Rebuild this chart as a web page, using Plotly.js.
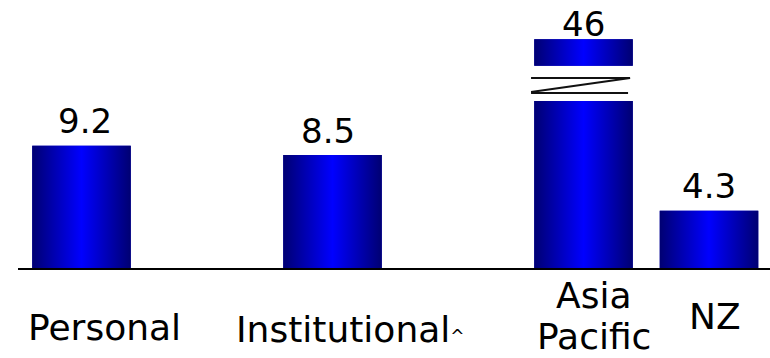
<!DOCTYPE html>
<html>
<head>
<meta charset="utf-8">
<script src="https://cdn.plot.ly/plotly-3.0.1.min.js"></script>
<style>
  html, body { margin: 0; padding: 0; background: #ffffff; }
  #chart { width: 770px; height: 358px; }
</style>
</head>
<body>
<div id="chart"></div>
<script>
// ---- data ----
const categories = ["Personal", "Institutional", "Asia Pacific", "NZ"];
const values = [9.2, 8.5, 46, 4.3];
const tickLabels = ["Personal", "Institutional^", "Asia<br>Pacific", "NZ"];

// ---- layout constants (positions / styles) ----
const xPos = [0, 2, 4, 5];
const BAR_W = 0.785;
const Y_MAX = 20.15;
const BREAK_FROM = 12.55;   // lower piece of broken bar ends here
const BREAK_TO = 44.0;      // upper piece resumes here
const BREAK_GAP = 2.65;     // visual gap (axis units)
const Y2_OFFSET = BREAK_TO - BREAK_FROM - BREAK_GAP;
const FONT = "DejaVu Sans, Verdana, sans-serif";
const GRAD = [[0, "#000072"], [0.5, "#0000ff"], [1, "#000072"]];

const valueShift = [3, 2, -7, 3];
const valueDx = [3, -5, 0, 0];
const labelDx = [23, 18, 10, 5.5];
const labelBaseline = [[340], [342], [308, 349], [329]];

// segments of bars
const lowerTops = values.map(v => Math.min(v, BREAK_FROM));
const brokenIdx = values.map((v, i) => v > BREAK_FROM ? i : -1).filter(i => i >= 0);

const traces = [];
traces.push({
  type: "bar", x: xPos, y: lowerTops, width: BAR_W, yaxis: "y",
  marker: { color: "#0000c0" }, hoverinfo: "skip", showlegend: false,
  name: "lower"
});
traces.push({
  type: "bar", x: brokenIdx.map(i => xPos[i]), y: brokenIdx.map(i => values[i] - BREAK_TO),
  base: brokenIdx.map(() => BREAK_TO), width: BAR_W, yaxis: "y2",
  marker: { color: "#0000c0" }, hoverinfo: "skip", showlegend: false, name: "upper"
});

function gradRect(xc, y0, y1, yaxis) {
  const a = xc - BAR_W / 2, b = xc + BAR_W / 2;
  return {
    type: "scatter", mode: "lines", yaxis: yaxis,
    x: [a, b, b, a, a], y: [y0, y0, y1, y1, y0],
    fill: "toself", line: { width: 0, color: "rgba(0,0,0,0)" },
    fillgradient: { type: "horizontal", colorscale: GRAD },
    hoverinfo: "skip", showlegend: false
  };
}
values.forEach((v, i) => traces.push(gradRect(xPos[i], 0, lowerTops[i], "y")));
brokenIdx.forEach(i => traces.push(gradRect(xPos[i], BREAK_TO, values[i], "y2")));

// annotations: value labels
const annotations = [];
values.forEach((v, i) => {
  const broken = v > BREAK_FROM;
  annotations.push({
    x: xPos[i], y: v, xref: "x", yref: broken ? "y2" : "y",
    text: String(v), showarrow: false, xanchor: "center", yanchor: "bottom",
    yshift: valueShift[i], xshift: valueDx[i],
    font: { family: FONT, size: 34, color: "#000000" }
  });
});
// category labels (one annotation per line)
tickLabels.forEach((lab, i) => {
  lab.split("<br>").forEach((line, j) => {
    let txt = line.replace("^", "<span style='font-size:17px'>^</span>");
    const boxTop = labelBaseline[i][j] - 0.928 * 36 - 2;
    annotations.push({
      x: xPos[i], y: 0, xref: "x", yref: "paper",
      text: txt, showarrow: false, xanchor: "center", yanchor: "top",
      xshift: labelDx[i], yshift: -(boxTop - 268),
      font: { family: FONT, size: 36, color: "#000000" }
    });
  });
});

// break marks on broken bars
const shapes = [];
brokenIdx.forEach(i => {
  const c = xPos[i];
  const lo = BREAK_FROM + 0.23 * BREAK_GAP, hi = BREAK_FROM + 0.655 * BREAK_GAP;
  const ln = { color: "#111111", width: 2 };
  shapes.push({ type: "line", xref: "x", yref: "y", x0: c - 0.418, x1: c + 0.371, y0: hi, y1: hi, line: ln });
  shapes.push({ type: "line", xref: "x", yref: "y", x0: c - 0.418, x1: c + 0.371, y0: lo + 0.07, y1: hi, line: ln });
  shapes.push({ type: "line", xref: "x", yref: "y", x0: c - 0.418, x1: c + 0.355, y0: lo, y1: lo, line: ln });
});

const layout = {
  width: 770, height: 358,
  margin: { l: 18, r: 0, t: 0, b: 90, pad: 0 },
  paper_bgcolor: "#ffffff", plot_bgcolor: "#ffffff",
  showlegend: false, barmode: "overlay",
  xaxis: {
    range: [-0.506, 5.486], showgrid: false, zeroline: false,
    showticklabels: false, ticks: "", showline: true, linecolor: "#000000", linewidth: 2,
    fixedrange: true
  },
  yaxis: { range: [0, Y_MAX], visible: false, fixedrange: true },
  yaxis2: { range: [Y2_OFFSET, Y_MAX + Y2_OFFSET], overlaying: "y", visible: false, fixedrange: true },
  annotations: annotations,
  shapes: shapes,
  font: { family: FONT }
};

Plotly.newPlot("chart", traces, layout, { displayModeBar: false, staticPlot: true });
</script>
</body>
</html>
